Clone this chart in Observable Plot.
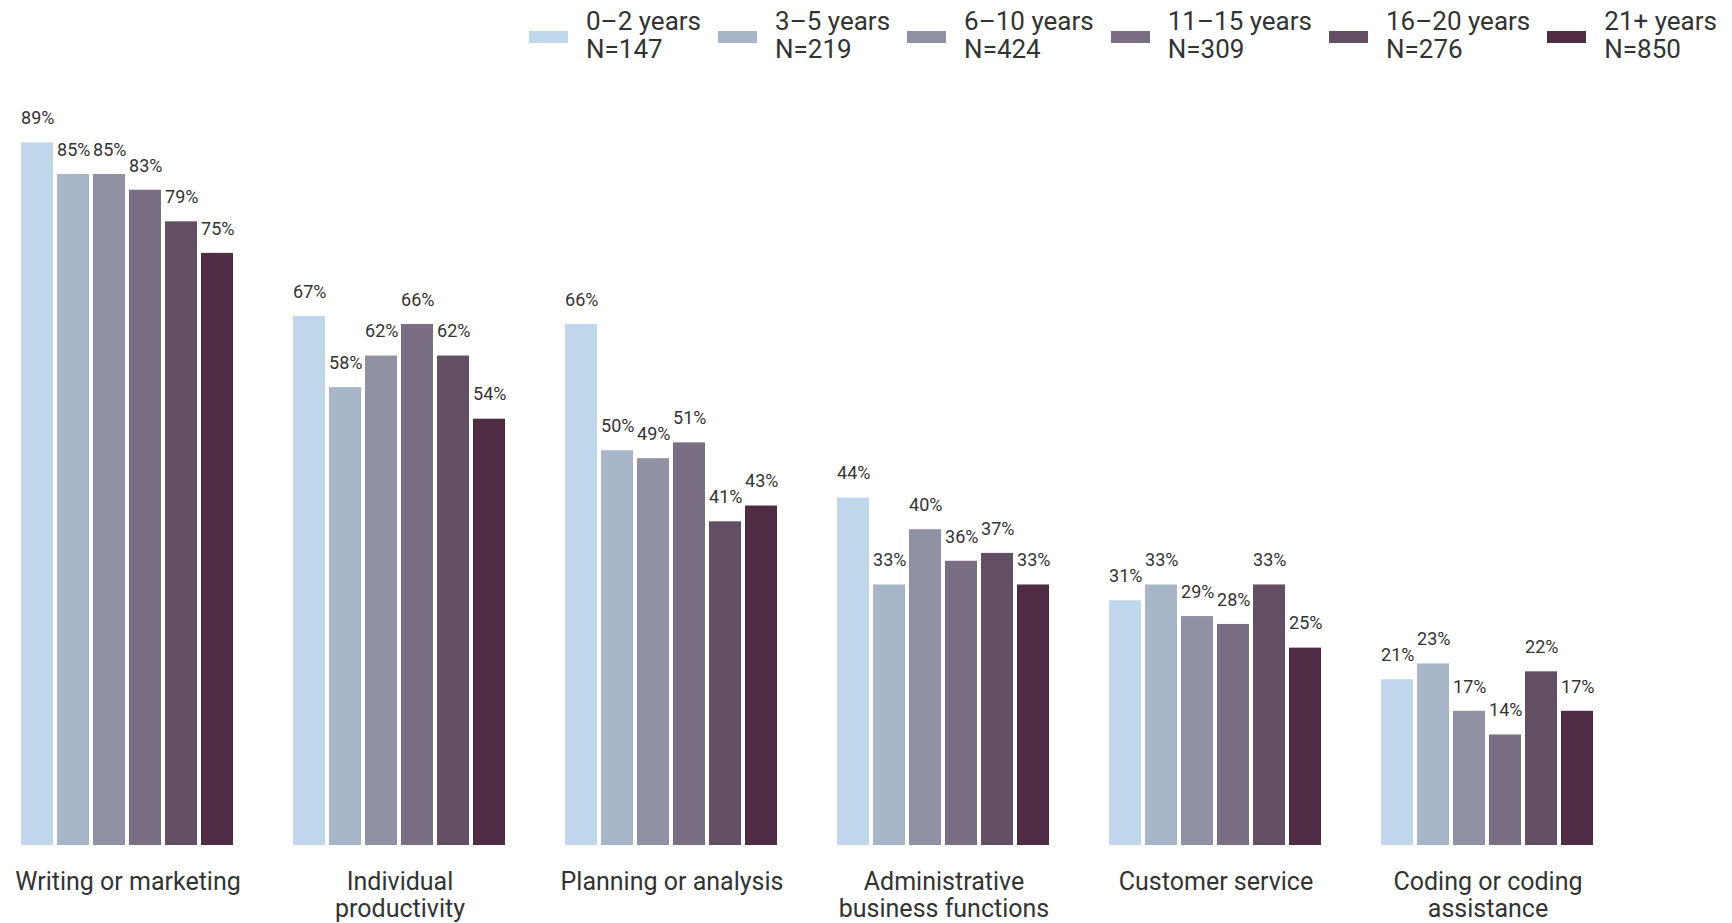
<!DOCTYPE html>
<html>
<head>
<meta charset="utf-8">
<script src="https://cdn.jsdelivr.net/npm/d3@7"></script>
<script src="https://cdn.jsdelivr.net/npm/@observablehq/plot@0.6"></script>
<style>
  html, body { margin: 0; padding: 0; background: #fff; }
  body { width: 1732px; height: 923px; overflow: hidden; font-family: Roboto, sans-serif; }
  #legend { height: 70px; display: flex; justify-content: flex-end; align-items: flex-start; padding-right: 15px; box-sizing: border-box; }
  .item { display: flex; align-items: center; margin-left: 17px; margin-top: 7px; }
  .sw { width: 39px; height: 12px; margin-right: 18px; margin-top: 4px; }
  .lab { font-size: 26px; line-height: 28px; color: #333; white-space: nowrap; }
</style>
</head>
<body>
<div id="legend"></div>
<div id="chart"></div>
<script>
const categories = ["Writing or marketing", "Individual productivity", "Planning or analysis", "Administrative business functions", "Customer service", "Coding or coding assistance"];
const categoryLabels = ["Writing or marketing", "Individual\nproductivity", "Planning or analysis", "Administrative\nbusiness functions", "Customer service", "Coding or coding\nassistance"];
const tenures = ["0–2 years", "3–5 years", "6–10 years", "11–15 years", "16–20 years", "21+ years"];
const tenureN = ["N=147", "N=219", "N=424", "N=309", "N=276", "N=850"];
const colors = ["#c0d6ea", "#a8b5c9", "#9191a6", "#7a6e82", "#634f63", "#4f2c42"];

const years0to2 = [89, 67, 66, 44, 31, 21];
const years3to5 = [85, 58, 50, 33, 33, 23];
const years6to10 = [85, 62, 49, 40, 29, 17];
const years11to15 = [83, 66, 51, 36, 28, 14];
const years16to20 = [79, 62, 41, 37, 33, 22];
const years21plus = [75, 54, 43, 33, 25, 17];
const series = [years0to2, years3to5, years6to10, years11to15, years16to20, years21plus];

const data = [];
categories.forEach((c, i) => {
  tenures.forEach((t, j) => {
    data.push({category: c, tenure: t, value: series[j][i]});
  });
});

// legend
const legend = document.getElementById("legend");
tenures.forEach((t, j) => {
  const item = document.createElement("div");
  item.className = "item";
  const sw = document.createElement("div");
  sw.className = "sw";
  sw.style.background = colors[j];
  const lab = document.createElement("div");
  lab.className = "lab";
  lab.innerHTML = t + "<br>" + tenureN[j];
  item.appendChild(sw);
  item.appendChild(lab);
  legend.appendChild(item);
});

const labelMap = new Map(categories.map((c, i) => [c, categoryLabels[i]]));

const chart = Plot.plot({
  width: 1732,
  height: 853,
  marginTop: 25,
  marginBottom: 78,
  marginLeft: 20,
  marginRight: 137,
  style: {fontFamily: "Roboto, sans-serif", background: "#fff"},
  fx: {domain: categories, paddingInner: 0.21, paddingOuter: 0, label: null, axis: null},
  x: {domain: tenures, paddingInner: 0.1, paddingOuter: 0, axis: null},
  y: {domain: [0, 95], axis: null},
  color: {domain: tenures, range: colors},
  marks: [
    Plot.barY(data, {fx: "category", x: "tenure", y: "value", fill: "tenure"}),
    Plot.text(data, {fx: "category", x: "tenure", y: "value", text: d => d.value + "%", textAnchor: "start", dx: -16.4, dy: -24.5, fontSize: 18, fill: "#333"}),
    Plot.axisFx({anchor: "bottom", tickSize: 0, tickPadding: 25, fontSize: 25, lineHeight: 1.08, tickFormat: d => labelMap.get(d), label: null, color: "#333"})
  ]
});
document.getElementById("chart").appendChild(chart);
</script>
</body>
</html>
